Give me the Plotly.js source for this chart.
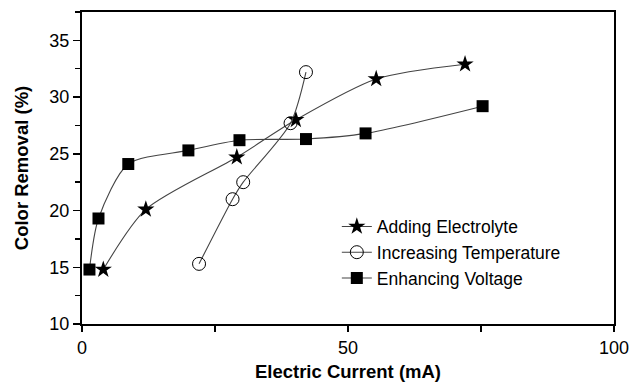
<!DOCTYPE html>
<html><head><meta charset="utf-8">
<script src="https://cdn.plot.ly/plotly-3.0.1.min.js"></script>
<style>html,body{margin:0;padding:0;background:#fff}</style>
</head><body>
<div id="chart" style="width:633px;height:384px"></div>
<script>
const electrolyteX = [4.0, 12.0, 29.1, 40.2, 55.3, 72.0];
const electrolyteY = [14.8, 20.1, 24.7, 28.0, 31.6, 32.9];
const temperatureX = [22.0, 28.3, 30.3, 39.2, 42.1];
const temperatureY = [15.3, 21.0, 22.5, 27.7, 32.2];
const voltageX = [1.4, 3.1, 8.7, 20.0, 29.6, 42.1, 53.3, 75.3];
const voltageY = [14.8, 19.3, 24.1, 25.3, 26.2, 26.3, 26.8, 29.2];
const seriesNames = ["Adding Electrolyte", "Increasing Temperature", "Enhancing Voltage"];

const lineStyle = {color: '#444', width: 1.1, shape: 'spline', smoothing: 0.75};
const traces = [
  {x: electrolyteX, y: electrolyteY, name: seriesNames[0], mode: 'lines+markers', line: lineStyle,
   marker: {symbol: 'star', size: 13, color: '#000', line: {width: 0}}},
  {x: temperatureX, y: temperatureY, name: seriesNames[1], mode: 'lines+markers', line: lineStyle,
   marker: {symbol: 'circle-open', size: 13, color: '#000', line: {width: 1, color: '#000'}}},
  {x: voltageX, y: voltageY, name: seriesNames[2], mode: 'lines+markers', line: lineStyle,
   marker: {symbol: 'square', size: 12, color: '#000'}}
];
const font = {family: 'Liberation Sans, Arial, sans-serif', size: 17, color: '#000'};
const layout = {
  width: 633, height: 384,
  margin: {l: 82, r: 19, t: 12, b: 60},
  paper_bgcolor: '#fff', plot_bgcolor: '#fff',
  font: font,
  showlegend: true,
  legend: {x: 0.479, y: 0.37, xanchor: 'left', yanchor: 'top', bgcolor: 'rgba(0,0,0,0)',
           font: {family: font.family, size: 17.5, color: '#000'}, tracegroupgap: 0, itemwidth: 30},
  xaxis: {range: [0, 100], dtick: 50, tick0: 0, showgrid: false, zeroline: false,
          showline: true, linecolor: '#000', linewidth: 2, mirror: true,
          ticks: 'outside', ticklen: 6, tickwidth: 1.5, tickcolor: '#000',
          minor: {dtick: 25, ticks: 'outside', ticklen: 6, tickwidth: 1.5, tickcolor: '#000', showgrid: false},
          tickfont: {size: 18},
          title: {text: '<b>Electric Current (mA)</b>', font: {size: 18.5}, standoff: 8}},
  yaxis: {range: [10, 37.5], dtick: 5, tick0: 10, showgrid: false, zeroline: false,
          showline: true, linecolor: '#000', linewidth: 2, mirror: true,
          ticks: 'outside', ticklen: 7, tickwidth: 1.5, tickcolor: '#000',
          minor: {dtick: 2.5, ticks: 'outside', ticklen: 5, tickwidth: 1.5, tickcolor: '#000', showgrid: false},
          tickfont: {size: 18},
          title: {text: '<b>Color Removal (%)</b>', font: {size: 18.5}, standoff: 16}}
};
Plotly.newPlot('chart', traces, layout, {displayModeBar: false, staticPlot: true});
</script>
</body></html>
